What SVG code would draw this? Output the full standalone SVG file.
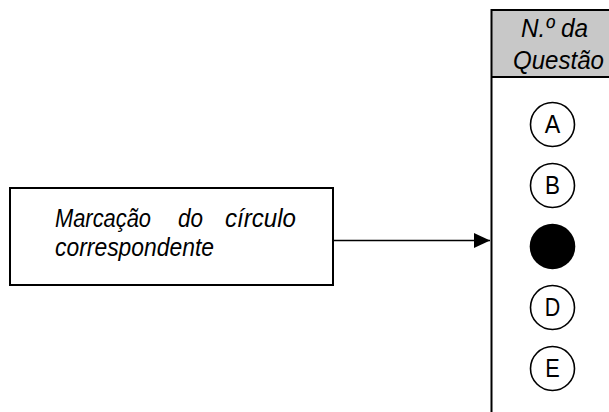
<svg xmlns="http://www.w3.org/2000/svg" width="609" height="412" viewBox="0 0 609 412">
<style>
.it{font-family:"Liberation Sans",Arial,sans-serif;font-style:italic;font-size:25px;fill:#000}
.lt{font-family:"Liberation Sans",Arial,sans-serif;font-size:25px;fill:#000;text-anchor:middle}
.opt{fill:#fff;stroke:#000;stroke-width:1.6}
</style>
<defs>
<marker id="ah" markerWidth="16" markerHeight="15" refX="16" refY="7.5" orient="auto" markerUnits="userSpaceOnUse">
<polygon points="0,0 16,7.5 0,15" fill="#000"/>
</marker>
</defs>
<rect width="609" height="412" fill="#fff"/>
<g id="table">
<rect x="492" y="10" width="130" height="67" fill="#c8c8c8"/>
<line x1="491" y1="10" x2="609" y2="10" stroke="#000" stroke-width="2"/>
<line x1="491" y1="77" x2="609" y2="77" stroke="#000" stroke-width="2"/>
<line x1="491.5" y1="9" x2="491.5" y2="412" stroke="#000" stroke-width="2"/>
<text class="it" x="521" y="37" textLength="67" lengthAdjust="spacingAndGlyphs">N.º da</text>
<text class="it" x="513" y="69" textLength="91" lengthAdjust="spacingAndGlyphs">Questão</text>
</g>
<g id="optA"><circle class="opt" cx="552.5" cy="124.5" r="22"/><text class="lt" x="552.5" y="133.3" textLength="15.5" lengthAdjust="spacingAndGlyphs">A</text></g>
<g id="optB"><circle class="opt" cx="552.5" cy="185.5" r="22"/><text class="lt" x="552.5" y="194.3" textLength="15" lengthAdjust="spacingAndGlyphs">B</text></g>
<g id="optC"><circle cx="552.5" cy="246.5" r="22.8" fill="#000"/></g>
<g id="optD"><circle class="opt" cx="552.5" cy="307.5" r="22"/><text class="lt" x="552.5" y="316.3" textLength="15.5" lengthAdjust="spacingAndGlyphs">D</text></g>
<g id="optE"><circle class="opt" cx="552.5" cy="368.5" r="22"/><text class="lt" x="552.5" y="377.3" textLength="14.5" lengthAdjust="spacingAndGlyphs">E</text></g>
<g id="note">
<rect x="10" y="188" width="323" height="97" fill="#fff" stroke="#000" stroke-width="2"/>
<text class="it" y="227"><tspan x="55" textLength="96" lengthAdjust="spacingAndGlyphs">Marcação</tspan><tspan x="178" textLength="25" lengthAdjust="spacingAndGlyphs">do</tspan><tspan x="225" textLength="71" lengthAdjust="spacingAndGlyphs">círculo</tspan></text>
<text class="it" x="55" y="256" textLength="159" lengthAdjust="spacingAndGlyphs">correspondente</text>
</g>
<g id="connectors">
<line x1="333" y1="240.5" x2="490" y2="240.5" stroke="#000" stroke-width="1.6" marker-end="url(#ah)"/>
</g>
</svg>
